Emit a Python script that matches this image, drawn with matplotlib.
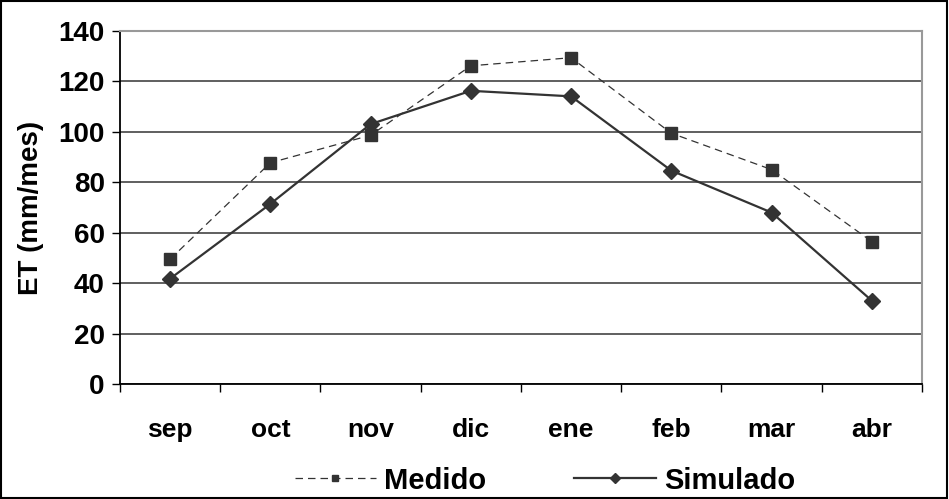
import matplotlib.pyplot as plt
from matplotlib.patches import Rectangle

""" Evapotranspiracion mensual: medida vs simulada """

meses = ['sep', 'oct', 'nov', 'dic', 'ene', 'feb', 'mar', 'abr']
medido = [49.5, 87.7, 98.6, 126.1, 129.3, 99.4, 85.0, 56.5]
simulado = [41.8, 71.4, 103.0, 116.2, 114.0, 84.6, 68.0, 33.1]

plt.rcParams['font.family'] = ['Liberation Sans', 'DejaVu Sans']
plt.rcParams['font.weight'] = 'bold'

fig = plt.figure(figsize=(9.49, 4.99), dpi=100)
ax = fig.add_axes([0.1264, 0.2299, 0.8451, 0.7086])

x = list(range(len(meses)))
gris = '#333333'
ax.plot(x, medido, color=gris, linestyle=(0, (6, 4)), linewidth=0.9,
        marker='s', markersize=8, label='Medido', zorder=3)
ax.plot(x, simulado, color=gris, linestyle='-', linewidth=1.6,
        marker='D', markersize=8, label='Simulado', zorder=4)

ax.set_xlim(-0.5, len(meses) - 0.5)
ax.set_ylim(0, 140)
ax.set_yticks(range(0, 141, 20))
ax.yaxis.grid(True, color='#444444', linewidth=1.2)
ax.set_axisbelow(True)

# ticks at category boundaries, labels centred
ax.set_xticks([i - 0.5 for i in range(len(meses) + 1)])
ax.set_xticklabels([])
ax.set_xticks(x, minor=True)
ax.set_xticklabels(meses, minor=True, fontsize=19, fontweight='bold')
ax.tick_params(axis='x', which='minor', length=0, pad=24)
ax.tick_params(axis='x', which='major', length=6, width=1, color='black')
ax.tick_params(axis='y', length=6, width=1, labelsize=20, pad=5)
for lbl in ax.get_yticklabels():
    lbl.set_fontweight('bold')

ax.spines['left'].set_color('black')
ax.spines['bottom'].set_color('black')
ax.spines['left'].set_linewidth(1.3)
ax.spines['bottom'].set_linewidth(1.3)
ax.spines['top'].set_color('#999999')
ax.spines['right'].set_color('#999999')
ax.spines['top'].set_linewidth(1.5)
ax.spines['right'].set_linewidth(1.5)

ax.set_ylabel('ET (mm/mes)', fontsize=20, fontweight='bold', labelpad=10)

leg = fig.legend(loc='center', bbox_to_anchor=(0.574, 0.037), ncol=2,
                 frameon=False, handlelength=2.8, markerscale=0.6,
                 columnspacing=3.0, handletextpad=0.28,
                 prop={'weight': 'bold', 'size': 21})

fig.patches.append(Rectangle((0.001, 0.002), 0.997, 0.996, transform=fig.transFigure,
                             fill=False, edgecolor='black', linewidth=1.5))

fig.savefig('out.png', dpi=100)
